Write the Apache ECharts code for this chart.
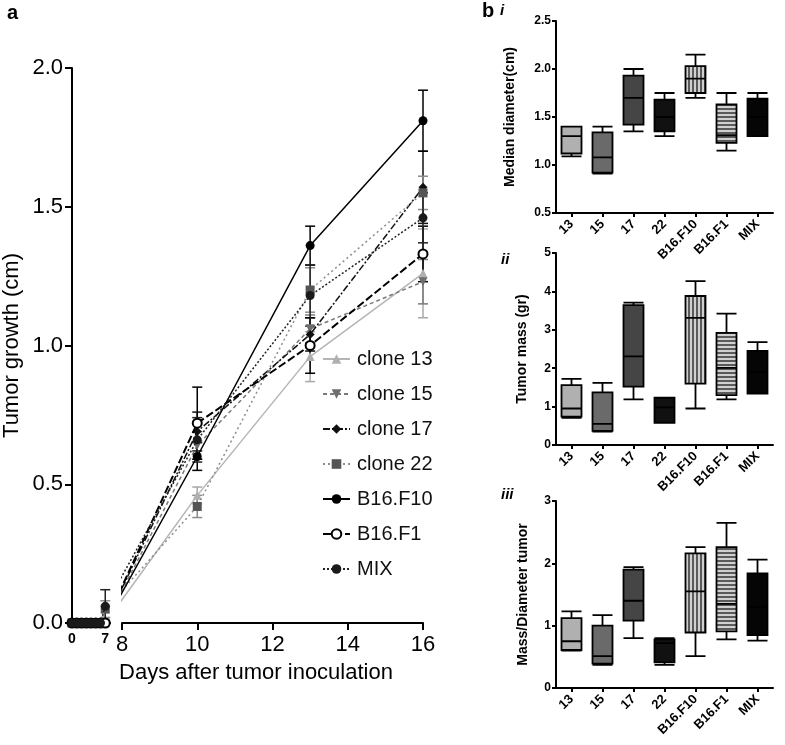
<!DOCTYPE html>
<html><head><meta charset="utf-8">
<script src="https://cdn.jsdelivr.net/npm/echarts@6/dist/echarts.min.js"></script>
<style>html,body{margin:0;padding:0;background:#fff}#c{width:785px;height:745px}</style>
</head><body><div id="c"></div>
<script>
// ---------- Panel a: tumor growth ----------
const seriesNames = ['clone 13','clone 15','clone 17','clone 22','B16.F10','B16.F1','MIX'];
const days = [0,1,2,3,4,5,6,7,10,13,16];
const clone13 = [0,0,0,0,0,0,0,0,0.46,0.96,1.26];
const clone15 = [0,0,0,0,0,0,0,0,0.64,1.06,1.23];
const clone17 = [0,0,0,0,0,0,0,0,0.69,1.04,1.57];
const clone22 = [0,0,0,0,0,0,0,0.05,0.42,1.20,1.55];
const b16f10  = [0,0,0,0,0,0,0,0,0.60,1.36,1.81];
const b16f1   = [0,0,0,0,0,0,0,0,0.72,1.00,1.33];
const mix     = [0,0,0,0,0,0,0,0.06,0.66,1.18,1.46];
const clone13Err = [0,0,0,0,0,0,0,0,0.03,0.09,0.16];
const clone15Err = [0,0,0,0,0,0,0,0,0.05,0.05,0.08];
const clone17Err = [0,0,0,0,0,0,0,0,0.07,0.06,0.13];
const clone22Err = [0,0,0,0,0,0,0,0.03,0.04,0.08,0.06];
const b16f10Err  = [0,0,0,0,0,0,0,0,0.05,0.07,0.11];
const b16f1Err   = [0,0,0,0,0,0,0,0,0.13,0.10,0.10];
const mixErr     = [0,0,0,0,0,0,0,0.06,0.08,0.11,0.09];
const earlyTicks = [0,7];
const lateTicks = [8,10,12,14,16];

// ---------- Panel b: box plots ----------
const boxCategories = ['13','15','17','22','B16.F10','B16.F1','MIX'];
// [min, Q1, median, Q3, max]
const diameterBoxes = [
  [1.09,1.12,1.30,1.40,1.40],
  [0.91,0.92,1.08,1.34,1.40],
  [1.35,1.42,1.70,1.93,2.00],
  [1.30,1.35,1.50,1.68,1.75],
  [1.70,1.75,1.90,2.03,2.15],
  [1.15,1.23,1.31,1.63,1.75],
  [1.30,1.30,1.50,1.69,1.75]
];
const massBoxes = [
  [0.71,0.74,0.95,1.56,1.72],
  [0.35,0.37,0.55,1.37,1.62],
  [1.19,1.52,2.31,3.64,3.71],
  [0.58,0.58,0.98,1.23,1.23],
  [0.95,1.60,3.31,3.88,4.27],
  [1.19,1.30,2.01,2.92,3.42],
  [1.34,1.34,1.90,2.45,2.68]
];
const ratioBoxes = [
  [0.60,0.61,0.75,1.12,1.23],
  [0.37,0.39,0.51,1.00,1.17],
  [0.80,1.08,1.40,1.90,1.94],
  [0.37,0.41,0.72,0.78,0.80],
  [0.51,0.89,1.55,2.16,2.26],
  [0.78,0.91,1.35,2.26,2.65],
  [0.76,0.85,1.30,1.84,2.06]
];

const FONT = "'Liberation Sans', Arial, sans-serif";
const values = [clone13, clone15, clone17, clone22, b16f10, b16f1, mix];
const errors = [clone13Err, clone15Err, clone17Err, clone22Err, b16f10Err, b16f1Err, mixErr];
const styles = [
  {line:'#b5b5b5', sym:'#b0b0b0', symbol:'triangle', rot:0, type:'solid', w:1.5},
  {line:'#7a7a7a', sym:'#6e6e6e', symbol:'triangle', rot:180, type:[4,3], w:1.5},
  {line:'#111', sym:'#111', symbol:'diamond', rot:0, type:[7,2,2,2], w:1.5},
  {line:'#8c8c8c', sym:'#555', symbol:'rect', rot:0, type:[2,3], w:1.5},
  {line:'#000', sym:'#000', symbol:'circle', rot:0, type:'solid', w:1.5},
  {line:'#000', sym:'#000', symbol:'emptyCircle', rot:0, type:[8,3], w:2},
  {line:'#222', sym:'#1a1a1a', symbol:'circle', rot:0, type:[2,2], w:1.5}
];

// geometry of the broken x axis (panel a)
const GA = {top:68, height:555, lLeft:72, lWidth:38, lMax:8, rLeft:122, rWidth:301, rMin:8, rMax:16};
// day 7 expressed on the right-segment scale (line crossing the axis break gets clipped at day 8)
const pxDay7 = GA.lLeft + 7 * GA.lWidth / GA.lMax;
const day7OnRight = GA.rMin - (GA.rLeft - pxDay7) / (GA.rWidth / (GA.rMax - GA.rMin));

function stripes(vertical){
  const c = document.createElement('canvas');
  c.width = 4; c.height = 4;
  const g = c.getContext('2d');
  g.fillStyle = '#d0d0d0'; g.fillRect(0,0,4,4);
  g.fillStyle = '#5a5a5a';
  if (vertical) g.fillRect(0,0,2,4); else g.fillRect(0,0,4,2);
  return {image:c, repeat:'repeat'};
}
const boxFills = ['#b0b0b0','#6a6a6a','#454545','#111111', stripes(true), stripes(false), '#050505'];

function errRender(color){
  return function(params, api){
    const x = api.value(0), lo = api.value(1), hi = api.value(2);
    const a = api.coord([x, hi]), b = api.coord([x, lo]);
    const w = 5, st = {stroke: color, lineWidth: 1.5};
    return {type:'group', children:[
      {type:'line', shape:{x1:a[0],y1:a[1],x2:b[0],y2:b[1]}, style:st},
      {type:'line', shape:{x1:a[0]-w,y1:a[1],x2:a[0]+w,y2:a[1]}, style:st},
      {type:'line', shape:{x1:b[0]-w,y1:b[1],x2:b[0]+w,y2:b[1]}, style:st}
    ]};
  };
}

const series = [];
const errSeries = [];
seriesNames.forEach((name, k) => {
  const s = styles[k], v = values[k], e = errors[k];
  const common = {
    type:'line', name, symbol:s.symbol, symbolRotate:s.rot, symbolSize:9,
    lineStyle:{color:s.line, width:s.w, type:s.type},
    itemStyle:{color:s.sym, borderColor:s.sym, borderWidth: s.symbol==='emptyCircle'?1.5:0},
    emphasis:{disabled:true}, z: 3 + k
  };
  const early = [], late = [], errEarly = [], errLate = [];
  days.forEach((d, i) => {
    if (d <= 7) {
      early.push([d, v[i]]);
      if (e[i] > 0) errEarly.push([d, v[i]-e[i], v[i]+e[i]]);
    }
    if (d === 7) late.push({value:[day7OnRight, v[i]], symbol:'none'});
    if (d > 7) {
      late.push([d, v[i]]);
      if (e[i] > 0) errLate.push([d, v[i]-e[i], v[i]+e[i]]);
    }
  });
  series.push(Object.assign({}, common, {xAxisIndex:1, yAxisIndex:1, data:late, clip:true}));
  series.push(Object.assign({}, common, {xAxisIndex:0, yAxisIndex:0, data:early}));
  errSeries.push({type:'custom', xAxisIndex:1, yAxisIndex:1, data:errLate, renderItem:errRender(s.line==='#b5b5b5'?'#a8a8a8':s.line), z:2});
  if (errEarly.length) errSeries.push({type:'custom', xAxisIndex:0, yAxisIndex:0, data:errEarly, renderItem:errRender(s.line), z:2});
});

function boxSeries(idx, arr){
  return {type:'boxplot', xAxisIndex:idx, yAxisIndex:idx, boxWidth:[20,20],
    itemStyle:{borderColor:'#000', borderWidth:1.8},
    emphasis:{disabled:true},
    data: arr.map((b,i)=>({value:b, itemStyle:{color:boxFills[i], borderColor:'#000', borderWidth:1.8}}))};
}

const axisBlack = {lineStyle:{color:'#000', width:2}};
function bYAxis(idx, min, max, interval, name, gap, dec){
  return {type:'value', gridIndex:idx, min, max, interval,
    axisLine:{show:true, lineStyle:{color:'#000', width:2}},
    axisTick:{show:true, length:4, lineStyle:{color:'#000', width:2}},
    axisLabel:{color:'#000', fontWeight:'bold', fontSize:12, fontFamily:FONT, margin:5,
      formatter: v => dec ? v.toFixed(1) : String(v)},
    splitLine:{show:false},
    name, nameLocation:'middle', nameGap:gap, nameRotate:90,
    nameTextStyle:{color:'#000', fontWeight:'bold', fontSize:14, fontFamily:FONT}};
}
function bXAxis(idx){
  return {type:'category', gridIndex:idx, data:boxCategories,
    axisLine:{show:true, lineStyle:{color:'#000', width:2}},
    axisTick:{show:true, alignWithLabel:true, length:4, lineStyle:{color:'#000', width:2}},
    axisLabel:{rotate:45, interval:0, color:'#000', fontWeight:'bold', fontSize:13, fontFamily:FONT, margin:9}};
}

const option = {
  animation:false,
  backgroundColor:'#fff',
  textStyle:{fontFamily:FONT},
  grid:[
    {left:GA.lLeft, top:GA.top, width:GA.lWidth, height:GA.height, outerBoundsMode:'none'},
    {left:GA.rLeft, top:GA.top, width:GA.rWidth, height:GA.height, outerBoundsMode:'none'},
    {left:556, top:21, width:217, height:192, outerBoundsMode:'none'},
    {left:556, top:253, width:217, height:192, outerBoundsMode:'none'},
    {left:556, top:501, width:217, height:187, outerBoundsMode:'none'}
  ],
  xAxis:[
    {type:'value', gridIndex:0, min:0, max:GA.lMax, interval:7,
      axisLine:axisBlack, axisTick:{show:false}, splitLine:{show:false},
      axisLabel:{color:'#000', fontWeight:'bold', fontSize:14, margin:9, fontFamily:FONT,
        formatter: v => earlyTicks.includes(v) ? String(v) : ''}},
    {type:'value', gridIndex:1, min:GA.rMin, max:GA.rMax, interval:2,
      axisLine:axisBlack, axisTick:{show:true, length:7, lineStyle:{color:'#000', width:2}}, splitLine:{show:false},
      axisLabel:{color:'#000', fontSize:22, margin:11, fontFamily:FONT,
        formatter: v => lateTicks.includes(v) ? String(v) : ''}},
    bXAxis(2), bXAxis(3), bXAxis(4)
  ],
  yAxis:[
    {type:'value', gridIndex:0, min:0, max:2, interval:0.5,
      axisLine:{show:true, lineStyle:{color:'#000', width:2}},
      axisTick:{show:true, length:7, lineStyle:{color:'#000', width:2}},
      axisLabel:{color:'#000', fontSize:22, margin:9, fontFamily:FONT, formatter: v => v.toFixed(1)},
      splitLine:{show:false},
      name:'Tumor growth (cm)', nameLocation:'middle', nameGap:49, nameRotate:90,
      nameTextStyle:{color:'#000', fontSize:22, fontFamily:FONT}},
    {type:'value', gridIndex:1, min:0, max:2, interval:0.5, show:false},
    bYAxis(2, 0.5, 2.5, 0.5, 'Median diameter(cm)', 39, true),
    bYAxis(3, 0, 5, 1, 'Tumor mass (gr)', 27, false),
    bYAxis(4, 0, 3, 1, 'Mass/Diameter tumor', 26, false)
  ],
  legend:{data:seriesNames, orient:'vertical', left:317, top:344, itemWidth:27, itemHeight:12, itemGap:15,
    selectedMode:false,
    textStyle:{fontSize:20, lineHeight:20, color:'#111', fontFamily:FONT, padding:[0,0,0,2]}},
  graphic:[
    {type:'text', left:7, top:3, style:{text:'a', font:'bold 20px '+FONT, fill:'#000'}},
    {type:'text', left:482, top:1, style:{text:'b', font:'bold 20px '+FONT, fill:'#000'}},
    {type:'text', left:500, top:3, style:{text:'i', font:'italic bold 15px '+FONT, fill:'#000'}},
    {type:'text', left:501, top:252, style:{text:'ii', font:'italic bold 15px '+FONT, fill:'#000'}},
    {type:'text', left:501, top:487, style:{text:'iii', font:'italic bold 15px '+FONT, fill:'#000'}},
    {type:'text', x:256, y:673, style:{text:'Days after tumor inoculation', font:'22px '+FONT, fill:'#000', textAlign:'center', textVerticalAlign:'middle'}}
  ],
  series: errSeries.concat(series, [
    boxSeries(2, diameterBoxes), boxSeries(3, massBoxes), boxSeries(4, ratioBoxes)])
};
const chart = echarts.init(document.getElementById('c'), null, {renderer:'canvas'});
chart.setOption(option);
</script>
</body></html>
